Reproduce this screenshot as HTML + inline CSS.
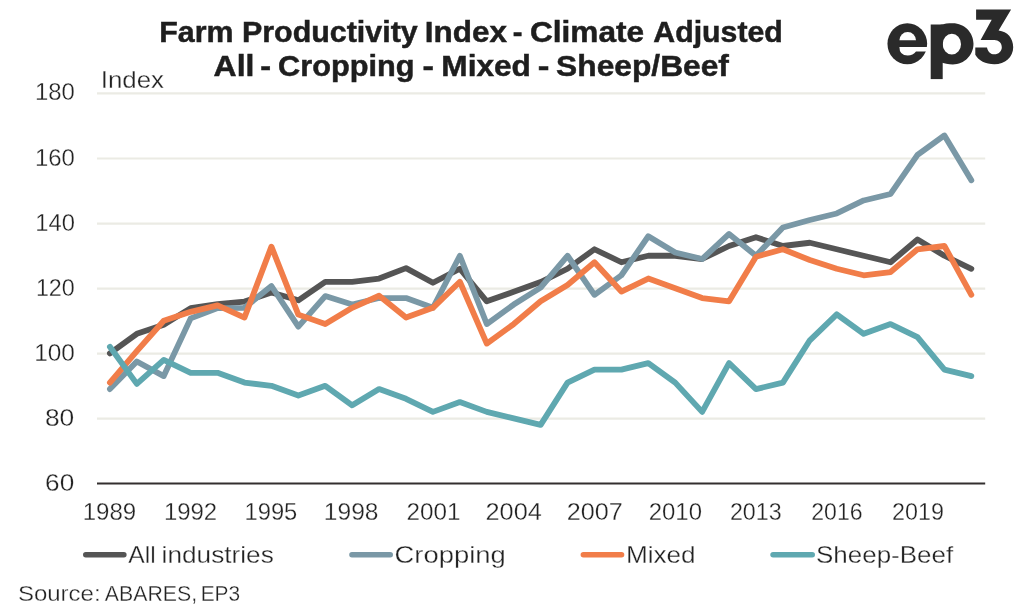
<!DOCTYPE html>
<html><head><meta charset="utf-8"><style>
html,body{margin:0;padding:0;background:#fff;overflow:hidden;}
svg{display:block;will-change:transform;}
text{font-family:"Liberation Sans",sans-serif;}
</style></head><body>
<svg width="1024" height="613" viewBox="0 0 1024 613">
<line x1="97.0" y1="418.66" x2="985.2" y2="418.66" stroke="#ebebe4" stroke-width="2.2"/>
<line x1="97.0" y1="353.62" x2="985.2" y2="353.62" stroke="#ebebe4" stroke-width="2.2"/>
<line x1="97.0" y1="288.58" x2="985.2" y2="288.58" stroke="#ebebe4" stroke-width="2.2"/>
<line x1="97.0" y1="223.54" x2="985.2" y2="223.54" stroke="#ebebe4" stroke-width="2.2"/>
<line x1="97.0" y1="158.50" x2="985.2" y2="158.50" stroke="#ebebe4" stroke-width="2.2"/>
<line x1="97.0" y1="93.46" x2="985.2" y2="93.46" stroke="#ebebe4" stroke-width="2.2"/>
<line x1="97.0" y1="483.4" x2="985.2" y2="483.4" stroke="#332f2f" stroke-width="2"/>
<polyline points="109.90,353.32 136.82,333.81 163.74,324.70 190.66,308.12 217.58,304.21 244.50,301.61 271.42,292.51 298.34,300.31 325.26,281.78 352.18,281.78 379.10,278.52 406.02,268.12 432.94,282.75 459.86,268.77 486.78,301.29 513.70,291.86 540.62,282.10 567.54,268.77 594.46,249.26 621.38,262.26 648.30,255.76 675.22,255.76 702.14,259.01 729.06,246.00 755.98,237.22 782.90,246.00 809.82,242.75 836.74,249.26 863.66,255.76 890.58,262.26 917.50,239.50 944.42,255.76 971.34,268.77" fill="none" stroke="#555555" stroke-width="5.8" stroke-linejoin="round" stroke-linecap="round"/>
<polyline points="109.90,389.09 136.82,361.45 163.74,376.08 190.66,318.36 217.58,308.12 244.50,307.79 271.42,286.00 298.34,326.65 325.26,296.08 352.18,304.54 379.10,298.04 406.02,298.04 432.94,307.79 459.86,255.76 486.78,324.05 513.70,304.54 540.62,287.63 567.54,255.76 594.46,294.78 621.38,275.27 648.30,236.25 675.22,252.51 702.14,259.01 729.06,233.97 755.98,255.76 782.90,227.47 809.82,219.99 836.74,213.48 863.66,200.48 890.58,193.97 917.50,154.95 944.42,135.44 971.34,180.31" fill="none" stroke="#7a98a6" stroke-width="5.8" stroke-linejoin="round" stroke-linecap="round"/>
<polyline points="109.90,382.59 136.82,351.04 163.74,320.80 190.66,311.86 217.58,305.35 244.50,317.55 271.42,246.65 298.34,314.62 325.26,324.05 352.18,307.79 379.10,295.76 406.02,317.55 432.94,307.79 459.86,281.78 486.78,343.56 513.70,324.05 540.62,301.29 567.54,285.03 594.46,262.26 621.38,291.53 648.30,278.52 675.22,288.28 702.14,298.04 729.06,301.29 755.98,256.74 782.90,249.26 809.82,259.99 836.74,268.77 863.66,275.27 890.58,272.02 917.50,249.26 944.42,246.00 971.34,294.78" fill="none" stroke="#f17d49" stroke-width="5.8" stroke-linejoin="round" stroke-linecap="round"/>
<polyline points="109.90,346.82 136.82,383.89 163.74,359.82 190.66,372.83 217.58,372.83 244.50,382.59 271.42,385.84 298.34,395.60 325.26,385.84 352.18,405.35 379.10,389.09 406.02,398.85 432.94,411.86 459.86,402.10 486.78,411.86 513.70,418.36 540.62,424.86 567.54,382.59 594.46,369.58 621.38,369.58 648.30,363.08 675.22,382.59 702.14,411.86 729.06,363.08 755.98,389.09 782.90,382.59 809.82,340.31 836.74,314.30 863.66,333.81 890.58,324.05 917.50,337.06 944.42,369.58 971.34,376.08" fill="none" stroke="#5fa8b0" stroke-width="5.8" stroke-linejoin="round" stroke-linecap="round"/>
<line x1="85.75" y1="554.7" x2="123.85" y2="554.7" stroke="#555555" stroke-width="5.5" stroke-linecap="round"/>
<line x1="351.95" y1="554.7" x2="390.25" y2="554.7" stroke="#7a98a6" stroke-width="5.5" stroke-linecap="round"/>
<line x1="583.35" y1="554.7" x2="621.55" y2="554.7" stroke="#f17d49" stroke-width="5.5" stroke-linecap="round"/>
<line x1="773.05" y1="554.7" x2="812.25" y2="554.7" stroke="#5fa8b0" stroke-width="5.5" stroke-linecap="round"/>
<text x="159.26" y="41.7" style="font-size:29.8px;font-weight:bold;stroke:#1e1e1e;stroke-width:0.5px;fill:#1e1e1e" textLength="74.25" lengthAdjust="spacingAndGlyphs">Farm</text>
<text x="241.96" y="41.7" style="font-size:29.8px;font-weight:bold;stroke:#1e1e1e;stroke-width:0.5px;fill:#1e1e1e" textLength="175.75" lengthAdjust="spacingAndGlyphs">Productivity</text>
<text x="424.79" y="41.7" style="font-size:29.8px;font-weight:bold;stroke:#1e1e1e;stroke-width:0.5px;fill:#1e1e1e" textLength="82.08" lengthAdjust="spacingAndGlyphs">Index</text>
<text x="512.82" y="41.7" style="font-size:29.8px;font-weight:bold;stroke:#1e1e1e;stroke-width:0.5px;fill:#1e1e1e" textLength="9.69" lengthAdjust="spacingAndGlyphs">-</text>
<text x="529.94" y="41.7" style="font-size:29.8px;font-weight:bold;stroke:#1e1e1e;stroke-width:0.5px;fill:#1e1e1e" textLength="114.14" lengthAdjust="spacingAndGlyphs">Climate</text>
<text x="653.38" y="41.7" style="font-size:29.8px;font-weight:bold;stroke:#1e1e1e;stroke-width:0.5px;fill:#1e1e1e" textLength="129.41" lengthAdjust="spacingAndGlyphs">Adjusted</text>
<text x="213.63" y="76.2" style="font-size:29.8px;font-weight:bold;stroke:#1e1e1e;stroke-width:0.5px;fill:#1e1e1e" textLength="40.80" lengthAdjust="spacingAndGlyphs">All</text>
<text x="260.31" y="76.2" style="font-size:29.8px;font-weight:bold;stroke:#1e1e1e;stroke-width:0.5px;fill:#1e1e1e" textLength="10.81" lengthAdjust="spacingAndGlyphs">-</text>
<text x="278.07" y="76.2" style="font-size:29.8px;font-weight:bold;stroke:#1e1e1e;stroke-width:0.5px;fill:#1e1e1e" textLength="136.38" lengthAdjust="spacingAndGlyphs">Cropping</text>
<text x="422.45" y="76.2" style="font-size:29.8px;font-weight:bold;stroke:#1e1e1e;stroke-width:0.5px;fill:#1e1e1e" textLength="11.43" lengthAdjust="spacingAndGlyphs">-</text>
<text x="441.38" y="76.2" style="font-size:29.8px;font-weight:bold;stroke:#1e1e1e;stroke-width:0.5px;fill:#1e1e1e" textLength="89.56" lengthAdjust="spacingAndGlyphs">Mixed</text>
<text x="537.83" y="76.2" style="font-size:29.8px;font-weight:bold;stroke:#1e1e1e;stroke-width:0.5px;fill:#1e1e1e" textLength="11.68" lengthAdjust="spacingAndGlyphs">-</text>
<text x="556.14" y="76.2" style="font-size:29.8px;font-weight:bold;stroke:#1e1e1e;stroke-width:0.5px;fill:#1e1e1e" textLength="172.78" lengthAdjust="spacingAndGlyphs">Sheep/Beef</text>
<text x="17.91" y="601.0" style="font-size:22px;stroke:#fff;stroke-width:0.3px;fill:#222222" textLength="82.68" lengthAdjust="spacingAndGlyphs">Source:</text>
<text x="104.80" y="601.0" style="font-size:22px;stroke:#fff;stroke-width:0.3px;fill:#222222" textLength="92.33" lengthAdjust="spacingAndGlyphs">ABARES,</text>
<text x="200.70" y="601.0" style="font-size:22px;stroke:#fff;stroke-width:0.3px;fill:#222222" textLength="39.46" lengthAdjust="spacingAndGlyphs">EP3</text>
<text x="128.20" y="562.5" style="font-size:24.5px;stroke:#fff;stroke-width:0.3px;fill:#222222" textLength="27.44" lengthAdjust="spacingAndGlyphs">All</text>
<text x="161.61" y="562.5" style="font-size:24.5px;stroke:#fff;stroke-width:0.3px;fill:#222222" textLength="112.21" lengthAdjust="spacingAndGlyphs">industries</text>
<text x="394.48" y="562.5" style="font-size:24.5px;stroke:#fff;stroke-width:0.3px;fill:#222222" textLength="111.33" lengthAdjust="spacingAndGlyphs">Cropping</text>
<text x="625.97" y="562.5" style="font-size:24.5px;stroke:#fff;stroke-width:0.3px;fill:#222222" textLength="69.68" lengthAdjust="spacingAndGlyphs">Mixed</text>
<text x="816.04" y="562.5" style="font-size:24.5px;stroke:#fff;stroke-width:0.3px;fill:#222222" textLength="137.09" lengthAdjust="spacingAndGlyphs">Sheep-Beef</text>
<text x="100.69" y="88.0" style="font-size:24.5px;stroke:#fff;stroke-width:0.3px;fill:#222222" textLength="63.35" lengthAdjust="spacingAndGlyphs">Index</text>
<text x="45.13" y="490.7" style="font-size:24.5px;stroke:#fff;stroke-width:0.3px;fill:#222222" textLength="29.15" lengthAdjust="spacingAndGlyphs">60</text>
<text x="44.92" y="425.66" style="font-size:24.5px;stroke:#fff;stroke-width:0.3px;fill:#222222" textLength="29.36" lengthAdjust="spacingAndGlyphs">80</text>
<text x="34.21" y="360.62" style="font-size:24.5px;stroke:#fff;stroke-width:0.3px;fill:#222222" textLength="40.68" lengthAdjust="spacingAndGlyphs">100</text>
<text x="35.89" y="295.58" style="font-size:24.5px;stroke:#fff;stroke-width:0.3px;fill:#222222" textLength="38.95" lengthAdjust="spacingAndGlyphs">120</text>
<text x="35.26" y="230.54" style="font-size:24.5px;stroke:#fff;stroke-width:0.3px;fill:#222222" textLength="39.60" lengthAdjust="spacingAndGlyphs">140</text>
<text x="34.95" y="165.5" style="font-size:24.5px;stroke:#fff;stroke-width:0.3px;fill:#222222" textLength="39.92" lengthAdjust="spacingAndGlyphs">160</text>
<text x="34.95" y="100.46" style="font-size:24.5px;stroke:#fff;stroke-width:0.3px;fill:#222222" textLength="39.92" lengthAdjust="spacingAndGlyphs">180</text>
<text x="82.70" y="519.8" style="font-size:24px;stroke:#fff;stroke-width:0.3px;fill:#222222" textLength="53.50" lengthAdjust="spacingAndGlyphs">1989</text>
<text x="163.90" y="519.8" style="font-size:24px;stroke:#fff;stroke-width:0.3px;fill:#222222" textLength="53.28" lengthAdjust="spacingAndGlyphs">1992</text>
<text x="244.52" y="519.8" style="font-size:24px;stroke:#fff;stroke-width:0.3px;fill:#222222" textLength="52.75" lengthAdjust="spacingAndGlyphs">1995</text>
<text x="323.86" y="519.8" style="font-size:24px;stroke:#fff;stroke-width:0.3px;fill:#222222" textLength="54.57" lengthAdjust="spacingAndGlyphs">1998</text>
<text x="406.49" y="519.8" style="font-size:24px;stroke:#fff;stroke-width:0.3px;fill:#222222" textLength="54.02" lengthAdjust="spacingAndGlyphs">2001</text>
<text x="485.54" y="519.8" style="font-size:24px;stroke:#fff;stroke-width:0.3px;fill:#222222" textLength="56.37" lengthAdjust="spacingAndGlyphs">2004</text>
<text x="566.85" y="519.8" style="font-size:24px;stroke:#fff;stroke-width:0.3px;fill:#222222" textLength="56.01" lengthAdjust="spacingAndGlyphs">2007</text>
<text x="648.70" y="519.8" style="font-size:24px;stroke:#fff;stroke-width:0.3px;fill:#222222" textLength="53.29" lengthAdjust="spacingAndGlyphs">2010</text>
<text x="729.93" y="519.8" style="font-size:24px;stroke:#fff;stroke-width:0.3px;fill:#222222" textLength="51.72" lengthAdjust="spacingAndGlyphs">2013</text>
<text x="811.24" y="519.8" style="font-size:24px;stroke:#fff;stroke-width:0.3px;fill:#222222" textLength="51.35" lengthAdjust="spacingAndGlyphs">2016</text>
<text x="892.03" y="519.8" style="font-size:24px;stroke:#fff;stroke-width:0.3px;fill:#222222" textLength="51.82" lengthAdjust="spacingAndGlyphs">2019</text>
<g fill="#2a2a2a">
<ellipse cx="907.3" cy="43.8" rx="19.85" ry="20.5"/>
<path fill="#fff" d="M899.4,40.3 A8.3,8.3 0 0 1 916,40.3 Z"/>
<path fill="#fff" d="M899.4,46.9 L928.5,46.9 L928.5,51.5 L916,51.5 Q913,55.4 907.7,55.4 Q899.4,55.4 899.4,46.9 Z"/>
<rect x="930.7" y="24.5" width="12" height="54.6"/>
<path fill-rule="evenodd" d="M940,25 C944,23.6 948.5,23.2 952.8,23.2 C964.5,23.2 973.5,32.5 973.5,43.85 C973.5,55.2 964.5,64.5 952.8,64.5 C948.5,64.5 944,63.6 940,62 Z M951.85,33.7 A9.15,10.45 0 1 0 951.85,54.6 A9.15,10.45 0 1 0 951.85,33.7 Z"/>
<path d="M976.1,9.4 L1011.1,9.4 L998.6,30.4 C1007.5,31.5 1013.2,38 1013.2,47.2 C1013.2,57 1005,64.3 994.4,64.3 C985.5,64.3 978.5,60.5 975.3,54.8 L975.3,47.4 L987,47.4 C987.8,51.5 990.5,54.3 994.4,54.3 C998.5,54.3 1001.8,51.2 1001.8,47.2 C1001.8,43.2 998.5,40.1 994.4,40.1 L980.6,40.1 L991.7,19.8 L976.1,19.8 Z"/>
</g>
</svg>
</body></html>
